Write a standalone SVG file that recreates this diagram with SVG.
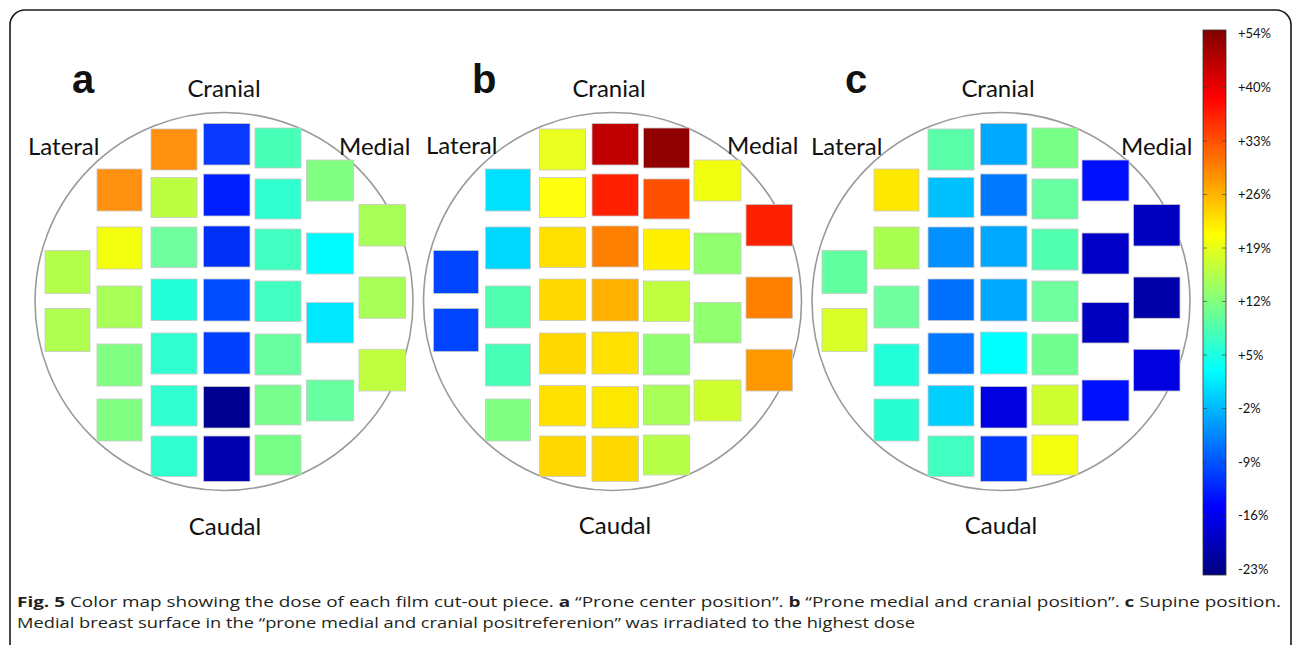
<svg xmlns="http://www.w3.org/2000/svg" width="1293" height="645" viewBox="0 0 1293 645">
<defs>
<style>
.frame{fill:none;stroke:#1a1a1a;stroke-width:1.6}
.circ{fill:none;stroke:#9a9a9a;stroke-width:1.6}
.sq{stroke:#c8c8c8;stroke-width:0.8}
.lbl{font-family:Lato,"Open Sans",sans-serif;font-size:24px;fill:#111}
.pl{font-family:"Liberation Sans",Arial,sans-serif;font-size:40px;font-weight:bold;fill:#111}
.cb{font-family:Lato,"Open Sans",sans-serif;font-size:13px;fill:#111}
.cap{font-family:"Open Sans","Noto Sans",sans-serif;font-size:15px;fill:#231f20}
.tick{stroke:#333;stroke-width:1;stroke-opacity:0.6}
</style>
<linearGradient id="jet" x1="0" y1="0" x2="0" y2="1">
<stop offset="0" stop-color="#7f0000"/>
<stop offset="0.125" stop-color="#ff0000"/>
<stop offset="0.375" stop-color="#ffff00"/>
<stop offset="0.625" stop-color="#00ffff"/>
<stop offset="0.875" stop-color="#0000ff"/>
<stop offset="1" stop-color="#00007f"/>
</linearGradient>
</defs>
<rect width="1293" height="645" fill="#ffffff"/>
<path class="frame" d="M10,645 V25 A15,15 0 0 1 25,10 H1276 A15,15 0 0 1 1291,25 V645"/>

<g id="panel-a">
<circle class="circ" cx="224" cy="301.5" r="189"/>
<rect class="sq" x="45" y="250.5" width="45" height="43" fill="#b4ff4c"/>
<rect class="sq" x="45" y="308.5" width="45" height="43" fill="#b0ff50"/>
<rect class="sq" x="97" y="169" width="45" height="42" fill="#ff9010"/>
<rect class="sq" x="97" y="227" width="45" height="42" fill="#f4ff10"/>
<rect class="sq" x="97" y="286" width="45" height="42" fill="#a8ff58"/>
<rect class="sq" x="97" y="344" width="45" height="42" fill="#80ff80"/>
<rect class="sq" x="97" y="399" width="45" height="42" fill="#80ff80"/>
<rect class="sq" x="151" y="129" width="46" height="41" fill="#ff9010"/>
<rect class="sq" x="151" y="177.5" width="46" height="40" fill="#bcff42"/>
<rect class="sq" x="151" y="227" width="46" height="40.5" fill="#70ffa0"/>
<rect class="sq" x="151" y="279" width="46" height="41.5" fill="#22ffd8"/>
<rect class="sq" x="151" y="333" width="46" height="41" fill="#30ffd0"/>
<rect class="sq" x="151" y="385.5" width="46" height="40.5" fill="#30ffd0"/>
<rect class="sq" x="151" y="436" width="46" height="40.5" fill="#30ffd0"/>
<rect class="sq" x="203.5" y="123.5" width="46.5" height="41.5" fill="#0a3aff"/>
<rect class="sq" x="203.5" y="174" width="46.5" height="42" fill="#0020ff"/>
<rect class="sq" x="203.5" y="226" width="46.5" height="41" fill="#0030f8"/>
<rect class="sq" x="203.5" y="279" width="46.5" height="42" fill="#004cff"/>
<rect class="sq" x="203.5" y="332" width="46.5" height="42" fill="#0040ff"/>
<rect class="sq" x="203.5" y="386.5" width="46.5" height="41.5" fill="#000090"/>
<rect class="sq" x="203.5" y="436" width="46.5" height="45.5" fill="#0000b0"/>
<rect class="sq" x="255" y="128" width="46" height="40" fill="#48ffb8"/>
<rect class="sq" x="255" y="179" width="46" height="40" fill="#30ffd0"/>
<rect class="sq" x="255" y="229" width="46" height="41" fill="#40ffc0"/>
<rect class="sq" x="255" y="281" width="46" height="40.5" fill="#40ffc0"/>
<rect class="sq" x="255" y="334" width="46" height="41" fill="#68ffa0"/>
<rect class="sq" x="255" y="385" width="46" height="40" fill="#78ff90"/>
<rect class="sq" x="255" y="435" width="46" height="40" fill="#78ff88"/>
<rect class="sq" x="306.5" y="160" width="47" height="41" fill="#80ff80"/>
<rect class="sq" x="306.5" y="233" width="47" height="41" fill="#00fcff"/>
<rect class="sq" x="306.5" y="302.5" width="47" height="40.5" fill="#00e8ff"/>
<rect class="sq" x="306.5" y="380" width="47" height="41" fill="#68ffa0"/>
<rect class="sq" x="359" y="204.5" width="46.5" height="41.5" fill="#a8ff58"/>
<rect class="sq" x="359" y="277" width="46.5" height="41.3" fill="#a8ff58"/>
<rect class="sq" x="359" y="349.3" width="46.5" height="41.7" fill="#c0ff40"/>
<text class="pl" x="72" y="93">a</text>
<text class="lbl" x="224" y="97" text-anchor="middle">Cranial</text>
<text class="lbl" x="28" y="155">Lateral</text>
<text class="lbl" x="339" y="155">Medial</text>
<text class="lbl" x="225" y="535" text-anchor="middle">Caudal</text>
</g>

<g id="panel-b">
<g transform="translate(388.5,0)">
<circle class="circ" cx="224" cy="301.5" r="189"/>
<rect class="sq" x="45" y="250.5" width="45" height="43" fill="#0044ff"/>
<rect class="sq" x="45" y="308.5" width="45" height="43" fill="#0044ff"/>
<rect class="sq" x="97" y="169" width="45" height="42" fill="#00e0ff"/>
<rect class="sq" x="97" y="227" width="45" height="42" fill="#00d8ff"/>
<rect class="sq" x="97" y="286" width="45" height="42" fill="#50ffb0"/>
<rect class="sq" x="97" y="344" width="45" height="42" fill="#48ffb8"/>
<rect class="sq" x="97" y="399" width="45" height="42" fill="#80ff80"/>
<rect class="sq" x="151" y="129" width="46" height="41" fill="#e8ff20"/>
<rect class="sq" x="151" y="177.5" width="46" height="40" fill="#ffff10"/>
<rect class="sq" x="151" y="227" width="46" height="40.5" fill="#ffe000"/>
<rect class="sq" x="151" y="279" width="46" height="41.5" fill="#ffd800"/>
<rect class="sq" x="151" y="333" width="46" height="41" fill="#ffd800"/>
<rect class="sq" x="151" y="385.5" width="46" height="40.5" fill="#ffe000"/>
<rect class="sq" x="151" y="436" width="46" height="40.5" fill="#ffd800"/>
<rect class="sq" x="203.5" y="123.5" width="46.5" height="41.5" fill="#c00000"/>
<rect class="sq" x="203.5" y="174" width="46.5" height="42" fill="#ff2000"/>
<rect class="sq" x="203.5" y="226" width="46.5" height="41" fill="#ff8000"/>
<rect class="sq" x="203.5" y="279" width="46.5" height="42" fill="#ffb000"/>
<rect class="sq" x="203.5" y="332" width="46.5" height="42" fill="#ffe000"/>
<rect class="sq" x="203.5" y="386.5" width="46.5" height="41.5" fill="#ffe800"/>
<rect class="sq" x="203.5" y="436" width="46.5" height="45.5" fill="#ffd800"/>
<rect class="sq" x="255" y="128" width="46" height="40" fill="#900000"/>
<rect class="sq" x="255" y="179" width="46" height="40" fill="#ff5000"/>
<rect class="sq" x="255" y="229" width="46" height="41" fill="#fff000"/>
<rect class="sq" x="255" y="281" width="46" height="40.5" fill="#c0ff40"/>
<rect class="sq" x="255" y="334" width="46" height="41" fill="#90ff70"/>
<rect class="sq" x="255" y="385" width="46" height="40" fill="#a8ff58"/>
<rect class="sq" x="255" y="435" width="46" height="40" fill="#b8ff48"/>
<rect class="sq" x="305.5" y="160" width="47" height="41" fill="#f0ff10"/>
<rect class="sq" x="305.5" y="233" width="47" height="41" fill="#90ff70"/>
<rect class="sq" x="305.5" y="302.5" width="47" height="40.5" fill="#90ff70"/>
<rect class="sq" x="305.5" y="380" width="47" height="41" fill="#d0ff30"/>
<rect class="sq" x="357.5" y="204.5" width="46.5" height="41.5" fill="#ff2000"/>
<rect class="sq" x="357.5" y="277" width="46.5" height="41.3" fill="#ff8000"/>
<rect class="sq" x="357.5" y="349.3" width="46.5" height="41.7" fill="#ff9800"/>
</g>
<text class="pl" x="472" y="93">b</text>
<text class="lbl" x="609" y="97" text-anchor="middle">Cranial</text>
<text class="lbl" x="426" y="154">Lateral</text>
<text class="lbl" x="727" y="154">Medial</text>
<text class="lbl" x="615" y="534" text-anchor="middle">Caudal</text>
</g>

<g id="panel-c">
<g transform="translate(777,0)">
<circle class="circ" cx="224" cy="301.5" r="189"/>
<rect class="sq" x="45" y="250.5" width="45" height="43" fill="#60ffa0"/>
<rect class="sq" x="45" y="308.5" width="45" height="43" fill="#d8ff28"/>
<rect class="sq" x="97" y="169" width="45" height="42" fill="#ffe800"/>
<rect class="sq" x="97" y="227" width="45" height="42" fill="#a8ff50"/>
<rect class="sq" x="97" y="286" width="45" height="42" fill="#70ffa0"/>
<rect class="sq" x="97" y="344" width="45" height="42" fill="#20ffd8"/>
<rect class="sq" x="97" y="399" width="45" height="42" fill="#28ffd0"/>
<rect class="sq" x="151" y="129" width="46" height="41" fill="#58ffa8"/>
<rect class="sq" x="151" y="177.5" width="46" height="40" fill="#00c0ff"/>
<rect class="sq" x="151" y="227" width="46" height="40.5" fill="#0090ff"/>
<rect class="sq" x="151" y="279" width="46" height="41.5" fill="#0070ff"/>
<rect class="sq" x="151" y="333" width="46" height="41" fill="#0078ff"/>
<rect class="sq" x="151" y="385.5" width="46" height="40.5" fill="#00d0ff"/>
<rect class="sq" x="151" y="436" width="46" height="40.5" fill="#40ffc0"/>
<rect class="sq" x="203.5" y="123.5" width="46.5" height="41.5" fill="#00a8ff"/>
<rect class="sq" x="203.5" y="174" width="46.5" height="42" fill="#0078ff"/>
<rect class="sq" x="203.5" y="226" width="46.5" height="41" fill="#00a8ff"/>
<rect class="sq" x="203.5" y="279" width="46.5" height="42" fill="#00a8ff"/>
<rect class="sq" x="203.5" y="332" width="46.5" height="42" fill="#00ffff"/>
<rect class="sq" x="203.5" y="386.5" width="46.5" height="41.5" fill="#0000e0"/>
<rect class="sq" x="203.5" y="436" width="46.5" height="45.5" fill="#0038ff"/>
<rect class="sq" x="255" y="128" width="46" height="40" fill="#78ff88"/>
<rect class="sq" x="255" y="179" width="46" height="40" fill="#68ffa0"/>
<rect class="sq" x="255" y="229" width="46" height="41" fill="#50ffb0"/>
<rect class="sq" x="255" y="281" width="46" height="40.5" fill="#70ffa0"/>
<rect class="sq" x="255" y="334" width="46" height="41" fill="#70ff90"/>
<rect class="sq" x="255" y="385" width="46" height="40" fill="#d0ff30"/>
<rect class="sq" x="255" y="435" width="46" height="40" fill="#f4ff10"/>
<rect class="sq" x="305" y="160" width="47" height="41" fill="#0010ff"/>
<rect class="sq" x="305" y="233" width="47" height="41" fill="#0000c8"/>
<rect class="sq" x="305" y="302.5" width="47" height="40.5" fill="#0000c0"/>
<rect class="sq" x="305" y="380" width="47" height="41" fill="#0010ff"/>
<rect class="sq" x="356.5" y="204.5" width="46.5" height="41.5" fill="#0000c0"/>
<rect class="sq" x="356.5" y="277" width="46.5" height="41.3" fill="#0000a8"/>
<rect class="sq" x="356.5" y="349.3" width="46.5" height="41.7" fill="#0000e0"/>
</g>
<text class="pl" x="845" y="93">c</text>
<text class="lbl" x="998" y="97" text-anchor="middle">Cranial</text>
<text class="lbl" x="811" y="155">Lateral</text>
<text class="lbl" x="1121" y="155">Medial</text>
<text class="lbl" x="1001" y="534" text-anchor="middle">Caudal</text>
</g>

<g id="colorbar">
<rect x="1203" y="30" width="23" height="545" fill="url(#jet)" stroke="#333" stroke-width="0.8"/>
<g class="tick">
<path d="M1203,87.5h4M1222,87.5h4M1203,141h4M1222,141h4M1203,194.5h4M1222,194.5h4M1203,248h4M1222,248h4M1203,301.5h4M1222,301.5h4M1203,355h4M1222,355h4M1203,408.5h4M1222,408.5h4M1203,462h4M1222,462h4M1203,515.5h4M1222,515.5h4"/>
</g>
<text class="cb" x="1238" y="38">+54%</text>
<text class="cb" x="1238" y="92">+40%</text>
<text class="cb" x="1238" y="146">+33%</text>
<text class="cb" x="1238" y="199">+26%</text>
<text class="cb" x="1238" y="253">+19%</text>
<text class="cb" x="1238" y="306">+12%</text>
<text class="cb" x="1238" y="360">+5%</text>
<text class="cb" x="1238" y="413">-2%</text>
<text class="cb" x="1238" y="467">-9%</text>
<text class="cb" x="1238" y="520">-16%</text>
<text class="cb" x="1238" y="574">-23%</text>
</g>

<g id="caption">
<text class="cap" x="17" y="607" textLength="1264" lengthAdjust="spacingAndGlyphs"><tspan font-weight="bold">Fig. 5</tspan> Color map showing the dose of each film cut-out piece. <tspan font-weight="bold">a</tspan> “Prone center position”. <tspan font-weight="bold">b</tspan> “Prone medial and cranial position”. <tspan font-weight="bold">c</tspan> Supine position.</text>
<text class="cap" x="17" y="628" textLength="898" lengthAdjust="spacingAndGlyphs">Medial breast surface in the “prone medial and cranial positreferenion” was irradiated to the highest dose</text>
</g>
</svg>
